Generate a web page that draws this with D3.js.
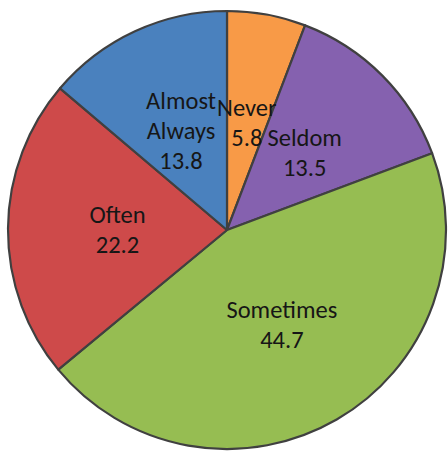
<!DOCTYPE html>
<html>
<head>
<meta charset="utf-8">
<script src="https://cdn.jsdelivr.net/npm/d3@7"></script>
<style>
  body { margin: 0; background: #fff; }
  svg text { font-family: Carlito, Calibri, Lato, sans-serif; }
</style>
</head>
<body>
<svg id="pie"></svg>
<script>
var categories = ["Never", "Seldom", "Sometimes", "Often", "Almost Always"];
var values = [5.8, 13.5, 44.7, 22.2, 13.8];
var colors = ["#F89A47", "#8561AF", "#96BD52", "#CE4A4A", "#4A81BE"];
// label lines (category may wrap to two lines)
var labelLines = [["Never"], ["Seldom"], ["Sometimes"], ["Often"], ["Almost", "Always"]];

var width = 448, height = 453;
var cx = 227, cy = 230, radius = 219;
var lineH = 30;

var svg = d3.select("svg#pie").attr("width", width).attr("height", height);
var g = svg.append("g").attr("transform", "translate(" + cx + "," + cy + ")");

var data = categories.map(function(c, i){ return {name: c, value: values[i], lines: labelLines[i], color: colors[i]}; });

var pie = d3.pie().sort(null).value(function(d){ return d.value; });
var arc = d3.arc().innerRadius(0).outerRadius(radius);
var labelArc = d3.arc().innerRadius(radius * 0.5).outerRadius(radius * 0.5);

var arcs = pie(data);

g.selectAll("path.slice")
  .data(arcs)
  .enter()
  .append("path")
  .attr("class", "slice")
  .attr("d", arc)
  .attr("fill", function(d){ return d.data.color; })
  .attr("stroke", "#404040")
  .attr("stroke-width", 2.2)
  .attr("stroke-linejoin", "round");

var labels = g.selectAll("text.lbl")
  .data(arcs)
  .enter()
  .append("text")
  .attr("class", "lbl")
  .attr("text-anchor", "middle")
  .attr("font-size", 24.5)
  .attr("fill", "#161616")
  .attr("transform", function(d){
    var c = labelArc.centroid(d);
    return "translate(" + c[0] + "," + c[1] + ")";
  });

labels.each(function(d){
  var t = d3.select(this);
  var lines = d.data.lines.concat([String(d.data.value)]);
  var y0 = -(lines.length - 1) * lineH / 2;
  lines.forEach(function(s, i){
    t.append("tspan")
      .attr("x", 0)
      .attr("y", y0 + i * lineH)
      .attr("dy", "0.35em")
      .text(s);
  });
});
</script>
</body>
</html>
